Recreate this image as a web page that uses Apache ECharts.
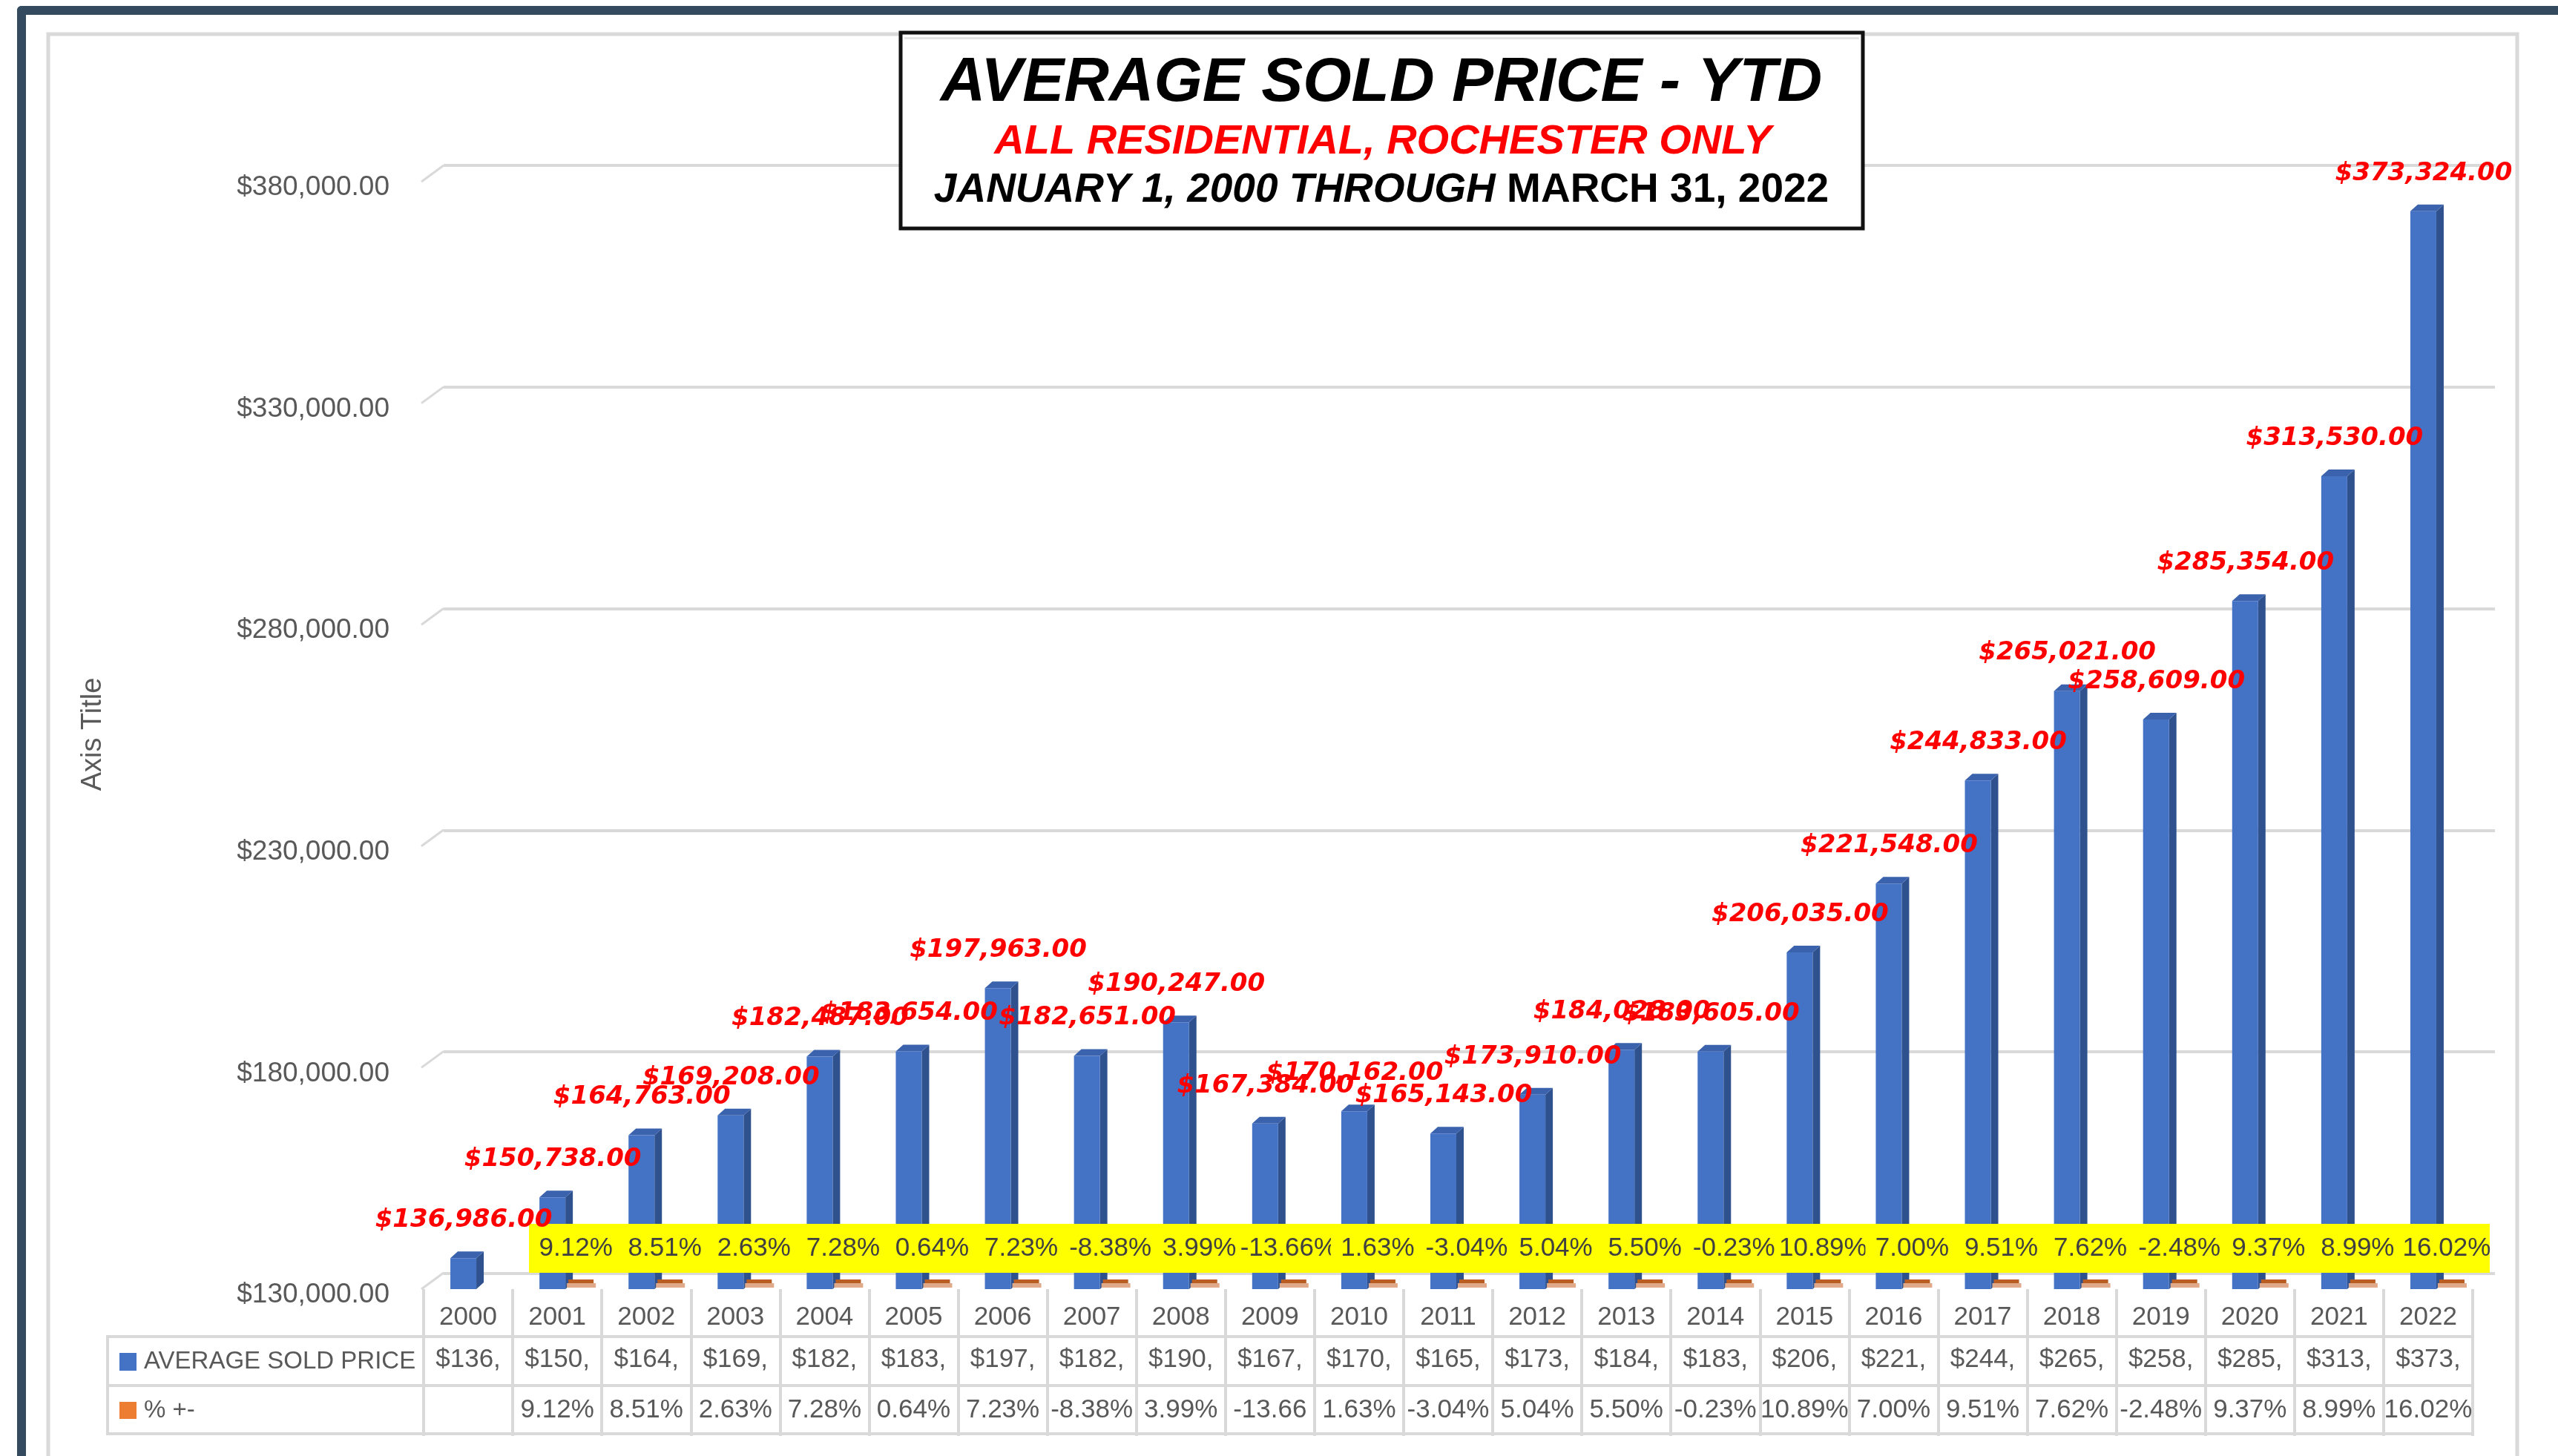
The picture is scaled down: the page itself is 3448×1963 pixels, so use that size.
<!DOCTYPE html>
<html lang="en">
<head>
<meta charset="UTF-8">
<title>Average Sold Price - YTD</title>
<style>
    * { padding: 0; margin: 0; }
    html, body { width: 100%; height: 100%; background: #fff; }
    #main { width: 3448px; height: 1963px; }
</style>
</head>
<body>
<div id="main"></div>
<script src="https://cdn.jsdelivr.net/npm/echarts@6/dist/echarts.min.js"></script>
<script>
// data
var years = ['2000', '2001', '2002', '2003', '2004', '2005', '2006', '2007', '2008', '2009', '2010',
    '2011', '2012', '2013', '2014', '2015', '2016', '2017', '2018', '2019', '2020', '2021', '2022'];
var avgPrice = [136986, 150738, 164763, 169208, 182487, 183654, 197963, 182651, 190247, 167384, 170162,
    165143, 173910, 184028, 183605, 206035, 221548, 244833, 265021, 258609, 285354, 313530, 373324];
var pctChange = [null, 9.12, 8.51, 2.63, 7.28, 0.64, 7.23, -8.38, 3.99, -13.66, 1.63,
    -3.04, 5.04, 5.50, -0.23, 10.89, 7.00, 9.51, 7.62, -2.48, 9.37, 8.99, 16.02];
var yTicks = [130000, 180000, 230000, 280000, 330000, 380000];

var FONT = '"Liberation Sans", Arial, sans-serif';
var GRAY = '#595959';
var LINE = '#d9d9d9';

function money(v) {
    return '$' + v.toLocaleString('en-US', { minimumFractionDigits: 2, maximumFractionDigits: 2 });
}
function pct(p) {
    return p == null ? '' : p.toFixed(2) + '%';
}

var priceData = avgPrice.map(function (v, i) { return [i, v]; });
var pctData = [];
pctChange.forEach(function (p, i) { if (p != null) pctData.push([i, p]); });

// 3d-ish column: front face, dark side, top face
function renderBar(params, api) {
    var top = api.coord([api.value(0), api.value(1)]);
    var base = api.coord([api.value(0), yTicks[0]]);
    var cx = top[0], ty = top[1], by = base[1];
    return {
        type: 'group',
        children: [
            { type: 'polygon', shape: { points: [[cx + 11, ty], [cx + 21, ty - 9], [cx + 21, by - 9], [cx + 11, by]] }, style: { fill: '#2f528f' } },
            { type: 'polygon', shape: { points: [[cx - 24, ty], [cx - 14, ty - 9], [cx + 21, ty - 9], [cx + 11, ty]] }, style: { fill: '#3a62ad' } },
            { type: 'rect', shape: { x: cx - 24, y: ty, width: 35, height: by - ty }, style: { fill: '#4472c4' } }
        ]
    };
}

function renderLabel(params, api) {
    var v = api.value(1);
    var top = api.coord([api.value(0), v]);
    return {
        type: 'text', x: top[0] - 6, y: top[1] - 34,
        style: { text: money(v), align: 'center', verticalAlign: 'bottom', fill: '#ff0000', font: 'italic bold 34px "DejaVu Sans", sans-serif' }
    };
}

// flat orange "% +-" columns sitting on the floor
function renderStub(params, api) {
    var base = api.coord([api.value(0), yTicks[0]]);
    var cx = base[0], by = base[1];
    return {
        type: 'group',
        children: [
            { type: 'rect', shape: { x: cx + 13, y: by - 8, width: 39, height: 6 }, style: { fill: '#e0aa8a' } },
            { type: 'rect', shape: { x: cx + 15, y: by - 13, width: 34, height: 5 }, style: { fill: '#b95d22' } }
        ]
    };
}

// yellow label band for the % values
function renderBand(params, api) {
    var base = api.coord([api.value(0), yTicks[0]]);
    var w = api.size([1, 0])[0];
    var left = base[0] - w / 2 + 22;
    return {
        type: 'group',
        children: [
            { type: 'rect', shape: { x: left, y: base[1] - 88, width: w + 1, height: 66 }, style: { fill: '#ffff00' } },
            { type: 'text', x: left + w / 2 + 3, y: base[1] - 55, style: { text: pct(api.value(1)), align: 'center', verticalAlign: 'middle', fill: '#404040', font: '35px ' + FONT } }
        ]
    };
}

// little slanted joins between the front axis and the back wall gridlines
function renderWallTick(params, api) {
    var p = api.coord([0, api.value(1)]);
    var w = api.size([1, 0])[0];
    var x0 = p[0] - w / 2 - 3;
    return { type: 'line', shape: { x1: x0, y1: p[1], x2: x0 + 30, y2: p[1] - 22 }, style: { stroke: LINE, lineWidth: 3 } };
}

var splitColors = ['#d9d9d9', 'rgba(0,0,0,0)', 'rgba(0,0,0,0)', 'rgba(0,0,0,0)', 'rgba(0,0,0,0)'];

var myChart = echarts.init(document.getElementById('main'));
var option = {
    animation: false,
    backgroundColor: '#fff',
    grid: [
        { left: 571, right: 115, top: 245, bottom: 225 },   // front plane (bars, labels, table)
        { left: 598, right: 85, top: 223, bottom: 246 }     // back wall gridlines
    ],
    xAxis: [
        {
            gridIndex: 0, type: 'category', data: years, position: 'bottom',
            axisLine: { show: false },
            axisTick: { show: true, alignWithLabel: false, interval: 0, length: 198, lineStyle: { color: LINE, width: 4 } },
            axisLabel: { interval: 0, margin: 21, fontSize: 35, fontFamily: FONT, color: GRAY }
        },
        {
            gridIndex: 0, type: 'category', data: years, position: 'bottom', offset: 95,
            axisLine: { show: false }, axisTick: { show: false },
            axisLabel: {
                interval: 0, hideOverlap: false,
                margin: 0, verticalAlign: 'middle', fontSize: 35, fontFamily: FONT, color: GRAY,
                width: 100, overflow: 'truncate', ellipsis: '',
                formatter: function (v, i) { return money(avgPrice[i]); }
            }
        },
        {
            gridIndex: 0, type: 'category', data: years, position: 'bottom', offset: 163,
            axisLine: { show: false }, axisTick: { show: false },
            axisLabel: {
                interval: 0, hideOverlap: false,
                margin: 0, verticalAlign: 'middle', fontSize: 35, fontFamily: FONT, color: GRAY,
                width: 122, overflow: 'truncate', ellipsis: '',
                formatter: function (v, i) { return pct(pctChange[i]); }
            }
        },
        { gridIndex: 1, type: 'category', data: years, show: false }
    ],
    yAxis: [
        {
            gridIndex: 0, type: 'value', min: yTicks[0], max: yTicks[yTicks.length - 1], interval: 10000,
            axisLine: { show: false }, axisTick: { show: false }, splitLine: { show: false },
            axisLabel: {
                margin: 46, fontSize: 37, fontFamily: FONT, color: GRAY,
                formatter: function (v) { return yTicks.indexOf(v) >= 0 ? '{a|' + money(v) + '}' : ''; },
                rich: { a: { fontSize: 37, fontFamily: FONT, color: GRAY, padding: [16, 0, 0, 0] } }
            }
        },
        {
            gridIndex: 1, type: 'value', min: yTicks[0], max: yTicks[yTicks.length - 1], interval: 10000,
            axisLine: { show: false }, axisTick: { show: false }, axisLabel: { show: false },
            splitLine: { show: true, lineStyle: { color: splitColors, width: 4 } }
        }
    ],
    series: [
        { name: 'wall', type: 'custom', xAxisIndex: 0, yAxisIndex: 0, data: yTicks.map(function (v) { return [0, v]; }), renderItem: renderWallTick, z: 1, silent: true },
        { name: 'AVERAGE SOLD PRICE', type: 'custom', xAxisIndex: 0, yAxisIndex: 0, data: priceData, encode: { x: 0, y: 1 }, renderItem: renderBar, z: 2 },
        { name: '% +-', type: 'custom', xAxisIndex: 0, yAxisIndex: 0, data: pctData, encode: { x: 0 }, renderItem: renderStub, z: 2 },
        { name: '% band', type: 'custom', xAxisIndex: 0, yAxisIndex: 0, data: pctData, encode: { x: 0 }, renderItem: renderBand, z: 3 },
        { name: 'price labels', type: 'custom', xAxisIndex: 0, yAxisIndex: 0, data: priceData, encode: { x: 0, y: 1 }, renderItem: renderLabel, z: 4 }
    ],
    graphic: [
        // outer navy frame
        { type: 'rect', z: 0, shape: { x: 23, y: 8, width: 3425, height: 12, r: [6, 0, 0, 0] }, style: { fill: '#344a5f' } },
        { type: 'rect', z: 0, shape: { x: 23, y: 8, width: 12, height: 1955, r: [6, 0, 0, 0] }, style: { fill: '#344a5f' } },
        // chart area border
        { type: 'rect', z: 0, shape: { x: 65, y: 46, width: 3328, height: 2000 }, style: { fill: 'none', stroke: LINE, lineWidth: 5 } },
        // title box
        { type: 'rect', z: 10, shape: { x: 1214, y: 44, width: 1297, height: 264 }, style: { fill: '#fff', stroke: '#111', lineWidth: 5 } },
        { type: 'rect', z: 10, shape: { x: 1219, y: 50, width: 1287, height: 3 }, style: { fill: '#e4e4e4' } },
        { type: 'text', z: 11, x: 1862, y: 113, style: { text: 'AVERAGE SOLD PRICE - YTD', align: 'center', verticalAlign: 'middle', fill: '#000', font: 'italic bold 84px ' + FONT } },
        { type: 'text', z: 11, x: 1864, y: 192, style: { text: 'ALL RESIDENTIAL, ROCHESTER ONLY', align: 'center', verticalAlign: 'middle', fill: '#ff0000', font: 'italic bold 56px ' + FONT } },
        {
            type: 'text', z: 11, x: 1862, y: 257,
            style: {
                text: '{i|JANUARY 1, 2000 THROUGH }{n|MARCH 31, 2022}', align: 'center', verticalAlign: 'middle', fill: '#000',
                rich: {
                    i: { fontStyle: 'italic', fontWeight: 'bold', fontSize: 55, fontFamily: FONT, fill: '#000' },
                    n: { fontWeight: 'bold', fontSize: 55, fontFamily: FONT, fill: '#000' }
                }
            }
        },
        // axis title
        { type: 'text', z: 5, x: 126, y: 990, rotation: Math.PI / 2, style: { text: 'Axis Title', align: 'center', verticalAlign: 'middle', fill: GRAY, font: '38px ' + FONT } },
        // data table frame
        { type: 'rect', z: 5, shape: { x: 143, y: 1800, width: 3192, height: 4 }, style: { fill: LINE } },
        { type: 'rect', z: 5, shape: { x: 143, y: 1866, width: 3192, height: 4 }, style: { fill: LINE } },
        { type: 'rect', z: 5, shape: { x: 143, y: 1931, width: 3192, height: 4 }, style: { fill: LINE } },
        { type: 'rect', z: 5, shape: { x: 143, y: 1800, width: 4, height: 135 }, style: { fill: LINE } },
        { type: 'rect', z: 5, shape: { x: 161, y: 1824, width: 23, height: 24 }, style: { fill: '#4472c4' } },
        { type: 'rect', z: 5, shape: { x: 161, y: 1890, width: 23, height: 23 }, style: { fill: '#ed7d31' } },
        { type: 'text', z: 5, x: 194, y: 1836, style: { text: 'AVERAGE SOLD PRICE', verticalAlign: 'middle', fill: GRAY, font: '33px ' + FONT } },
        { type: 'text', z: 5, x: 194, y: 1902, style: { text: '% +-', verticalAlign: 'middle', fill: GRAY, font: '33px ' + FONT } }
    ]
};
myChart.setOption(option);
</script>
</body>
</html>
